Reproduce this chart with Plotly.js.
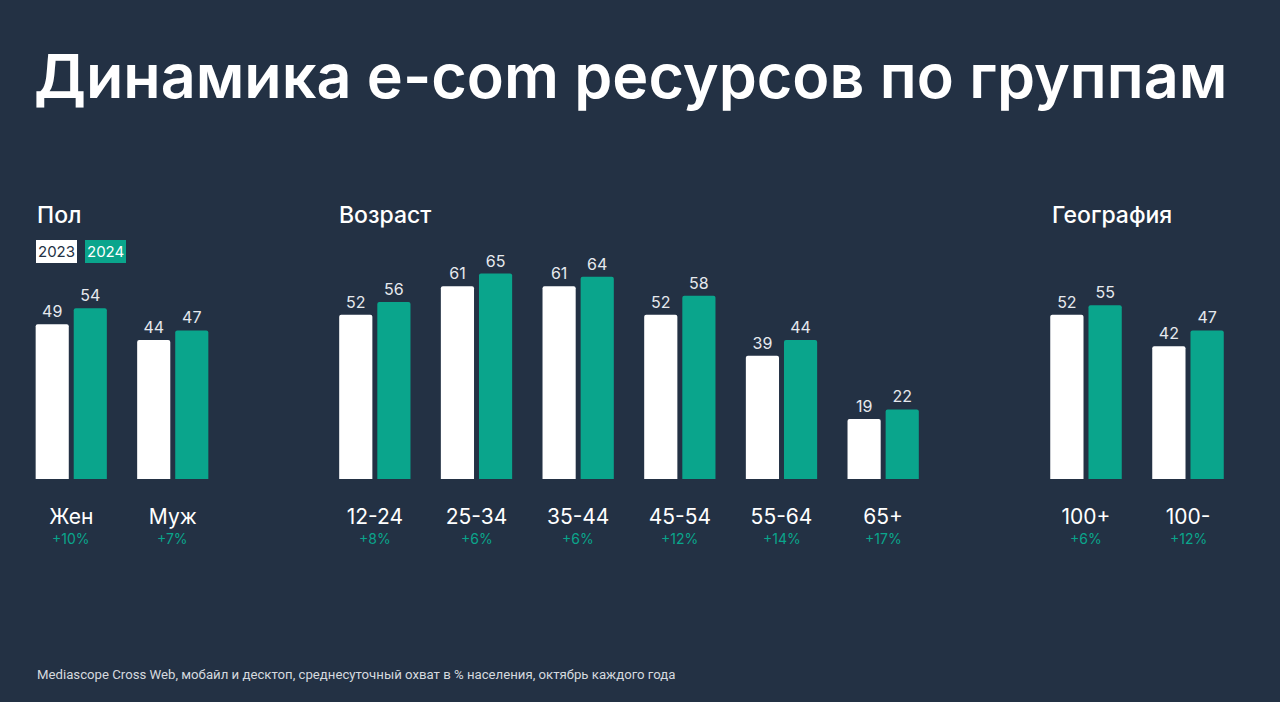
<!DOCTYPE html>
<html>
<head>
<meta charset="utf-8">
<script src="https://cdn.plot.ly/plotly-3.0.1.min.js"></script>
<style>
  html, body { margin: 0; padding: 0; background: #233144; }
  #chart { width: 1280px; height: 702px; }
</style>
</head>
<body>
<div id="chart"></div>
<script>
// Пол
const sexCats = ["Жен", "Муж"];
const sex2023 = [49, 44];
const sex2024 = [54, 47];
const sexGrowth = ["+10%", "+7%"];

// Возраст
const ageCats = ["12-24", "25-34", "35-44", "45-54", "55-64", "65+"];
const age2023 = [52, 61, 61, 52, 39, 19];
const age2024 = [56, 65, 64, 58, 44, 22];
const ageGrowth = ["+8%", "+6%", "+6%", "+12%", "+14%", "+17%"];

// География
const geoCats = ["100+", "100-"];
const geo2023 = [52, 42];
const geo2024 = [55, 47];
const geoGrowth = ["+6%", "+12%"];

const bg = "#233144";
const white = "#ffffff";
const teal = "#0aa58c";
const W = 1280, H = 702;

function bars(cats, vals, color, xa, name) {
  return {
    type: "bar",
    x: cats,
    y: vals,
    xaxis: xa,
    yaxis: "y",
    name: name,
    marker: { color: color, cornerradius: 2 },
    text: vals.map(String),
    textposition: "outside",
    cliponaxis: false,
    textfont: { family: "Inter", size: 16, color: "#e6e9ee" },
    hoverinfo: "skip"
  };
}

const data = [
  bars(sexCats, sex2023, white, "x", "2023"),
  bars(sexCats, sex2024, teal, "x", "2024"),
  bars(ageCats, age2023, white, "x2", "2023"),
  bars(ageCats, age2024, teal, "x2", "2024"),
  bars(geoCats, geo2023, white, "x3", "2023"),
  bars(geoCats, geo2024, teal, "x3", "2024")
];

function xax(x0, x1) {
  return {
    domain: [x0 / W, x1 / W],
    anchor: "y",
    showgrid: false,
    zeroline: false,
    showline: false,
    ticks: "",
    ticklabelstandoff: 23,
    tickfont: { family: "Inter", size: 21, color: white },
    fixedrange: true
  };
}

const growthAnn = [];
function addGrowth(cats, labels, xref) {
  cats.forEach((c, i) => {
    growthAnn.push({
      x: c, xref: xref, y: (H - 538) / H, yref: "paper", yanchor: "middle",
      text: labels[i], showarrow: false,
      font: { family: "Inter", size: 14, color: teal }
    });
  });
}
addGrowth(sexCats, sexGrowth, "x");
addGrowth(ageCats, ageGrowth, "x2");
addGrowth(geoCats, geoGrowth, "x3");

const head = { family: "Inter", size: 23, color: white, weight: 500 };
const textAnn = [
  { text: "Динамика e-com ресурсов по группам", x: 32 / W, y: (H - 76) / H,
    font: { family: "Inter", size: 61, color: white, weight: 600 } },
  { text: "Пол", x: 35 / W, y: (H - 215) / H, font: head },
  { text: "Возраст", x: 337 / W, y: (H - 215) / H, font: head },
  { text: "География", x: 1050 / W, y: (H - 215) / H, font: head },
  { text: "Mediascope Cross Web, мобайл и десктоп, среднесуточный охват в % населения, октябрь каждого года",
    x: 35 / W, y: (H - 674) / H, font: { family: "Roboto", size: 13.2, color: "#d5d9df" } }
].map(a => Object.assign({ xref: "paper", yref: "paper", xanchor: "left", yanchor: "middle", showarrow: false }, a));

const legendAnn = [
  { text: "2023", x: 36 / W, bgcolor: white, font: { family: "Inter", size: 15, color: bg } },
  { text: "2024", x: 85 / W, bgcolor: teal, font: { family: "Inter", size: 15, color: white } }
].map(a => Object.assign({ xref: "paper", yref: "paper", y: (H - 252) / H, xanchor: "left", yanchor: "middle",
  showarrow: false, borderpad: 2, borderwidth: 0 }, a));

const layout = {
  width: W,
  height: H,
  margin: { l: 0, r: 0, t: 0, b: 0 },
  paper_bgcolor: bg,
  plot_bgcolor: bg,
  showlegend: false,
  barmode: "group",
  bargap: 0.25,
  bargroupgap: 0.13,
  xaxis: xax(20.5, 223.5),
  xaxis2: xax(324, 934),
  xaxis3: xax(1035, 1239),
  yaxis: {
    domain: [(H - 479) / H, (H - 226.2) / H],
    range: [0, 80],
    visible: false,
    fixedrange: true
  },
  annotations: growthAnn.concat(textAnn, legendAnn)
};

Plotly.newPlot("chart", data, layout, { displayModeBar: false, staticPlot: true });
</script>
</body>
</html>
